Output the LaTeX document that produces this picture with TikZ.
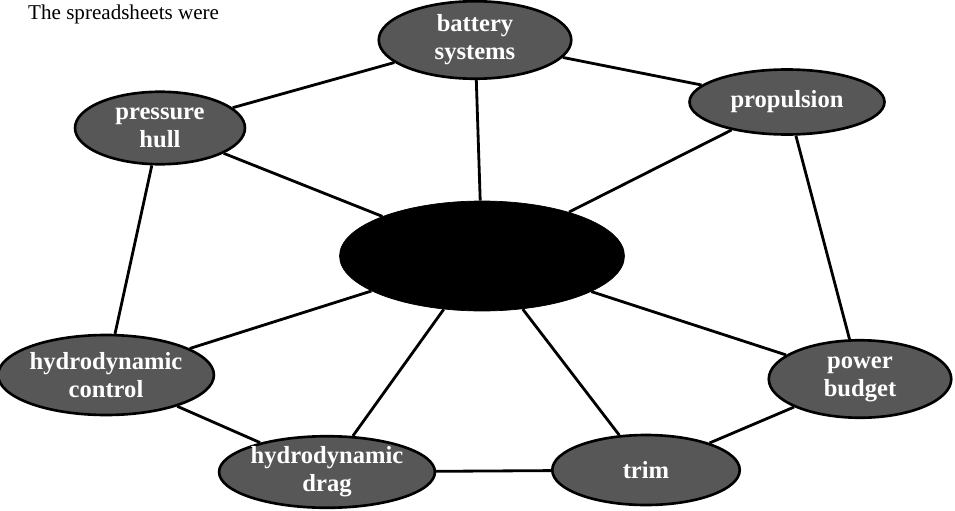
\documentclass[tikz,border=0pt]{standalone}
\usepackage{fontspec}
\setmainfont{Liberation Serif}
\usepackage{tikz}
\usetikzlibrary{shapes.geometric, positioning, calc}

\begin{document}
\begin{tikzpicture}[x=0.02cm,y=-0.02cm,
  topic/.style={ellipse,draw=black,line width=1.5pt,fill=black!66,text=white,
    font=\fontsize{14}{16}\selectfont\bfseries,align=center,inner sep=0pt},
  hub/.style={ellipse,draw=black,fill=black,inner sep=0pt},
  link/.style={line width=1.6pt}]
  \useasboundingbox (0,0) rectangle (955,510);

  % ---------- texto no alto ----------
  \node[anchor=base west,font=\fontsize{12}{14}\selectfont] (texto) at (22,20) {The spreadsheets were};

  % ---------- centro ----------
  \node[hub,minimum width=5.7cm,minimum height=2.2cm] (centro) at (482,256) {};

  % ---------- temas ----------
  \node[topic,minimum width=3.85cm,minimum height=1.55cm] (bateria) at (475,40) {battery\\systems};
  \node[topic,minimum width=3.4cm,minimum height=1.45cm] (casco) at (160,128) {pressure\\hull};
  \node[topic,minimum width=3.9cm,minimum height=1.3cm] (propulsao) at (787,102) {propulsion};
  \node[topic,minimum width=4.1cm,minimum height=1.6cm] (controle) at (106,375) {hydrodynamic\\control};
  \node[topic,minimum width=3.65cm,minimum height=1.55cm] (energia) at (860,379) {power\\budget};
  \node[topic,minimum width=3.8cm,minimum height=1.3cm] (arrasto) at (327,472) {hydrodynamic\\drag};
  \node[topic,minimum width=3.75cm,minimum height=1.4cm] (trim) at (646,470) {trim};

  % ligações em volta
  \draw[link] (bateria) -- (casco);
  \draw[link] (bateria) -- (propulsao);
  \draw[link] (casco) -- (controle);
  \draw[link] (propulsao) -- (energia);
  \draw[link] (controle) -- (arrasto);
  \draw[link] (arrasto) -- (trim);
  \draw[link] (trim) -- (energia);

  % ligações ao centro
  \foreach \t in {bateria,casco,propulsao,controle,energia,arrasto,trim}
    \draw[link] (\t) -- (centro);
\end{tikzpicture}
\end{document}
